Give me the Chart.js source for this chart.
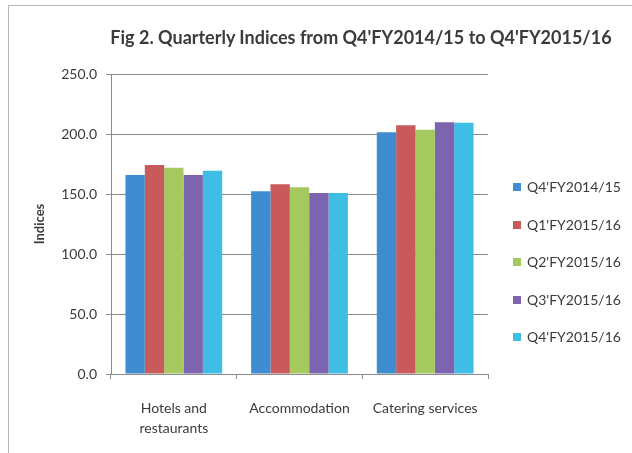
<!DOCTYPE html>
<html>
<head>
<meta charset="utf-8">
<script src="https://cdn.jsdelivr.net/npm/chart.js"></script>
<style>
    body { margin: 0; background: #fff; }
    #wrap { position: relative; width: 632px; height: 453px; overflow: hidden; }
    #frame { position: absolute; left: 8px; top: 5px; width: 700px; height: 500px; border-left: 1px solid #b5b5b5; border-top: 1px solid #b5b5b5; }
    #title { position: absolute; left: 361px; top: 26px; transform: translateX(-50%); white-space: nowrap;
             font: bold 18px Lato, sans-serif; color: #3b3b3b; }
    #legend { position: absolute; left: 513px; top: 178px; font: 14px Lato, sans-serif; color: #3b3b3b; }
    #legend div { height: 37.5px; display: flex; align-items: flex-start; }
    #legend span.box { display: inline-block; width: 8px; height: 8px; margin: 5px 6px 0 0; }
    canvas { position: absolute; left: 0; top: 0; }
</style>
</head>
<body>
<div id="wrap">
    <div id="frame"></div>
    <canvas id="chart" width="632" height="453"></canvas>
    <div id="title">Fig 2. Quarterly Indices from Q4'FY2014/15 to Q4'FY2015/16</div>
    <div id="legend"></div>
</div>

<script type="text/javascript">
    const categories = [["Hotels and", "restaurants"], "Accommodation", "Catering services"];
    const seriesNames = ["Q4'FY2014/15", "Q1'FY2015/16", "Q2'FY2015/16", "Q3'FY2015/16", "Q4'FY2015/16"];
    const q4fy1415 = [165.8, 152.2, 201.4];
    const q1fy1516 = [174.2, 158.1, 207.2];
    const q2fy1516 = [171.9, 155.6, 203.6];
    const q3fy1516 = [165.8, 150.8, 209.7];
    const q4fy1516 = [169.4, 150.8, 209.4];
    const colors = ["#3f8dd0", "#c85a5c", "#a6c95f", "#7c64ae", "#3fbde5"];

    const seriesData = [q4fy1415, q1fy1516, q2fy1516, q3fy1516, q4fy1516];
    const textColor = "#3b3b3b";
    const fontFamily = "Lato, sans-serif";

    let datasets = seriesData.map((d, i) => ({
        label: seriesNames[i],
        data: d,
        backgroundColor: colors[i],
        borderWidth: 0,
        categoryPercentage: 0.77,
        barPercentage: 1.0
    }));

    // html legend built from the series
    let legend = document.getElementById("legend");
    seriesNames.forEach((name, i) => {
        let row = document.createElement("div");
        row.innerHTML = '<span class="box" style="background:' + colors[i] + '"></span>' + name;
        legend.appendChild(row);
    });

    let ctx = document.getElementById("chart").getContext("2d");
    new Chart(ctx, {
        type: "bar",
        data: { labels: categories, datasets: datasets },
        options: {
            responsive: false,
            animation: false,
            layout: { padding: { top: 74, right: 144, left: 0, bottom: 0 } },
            plugins: {
                legend: { display: false },
                title: { display: false },
                tooltip: { enabled: false }
            },
            scales: {
                x: {
                    afterFit: s => { s.height = 79; },
                    grid: { display: true, drawOnChartArea: false, tickLength: 5, color: "#8a8a8a", offset: true },
                    border: { display: true, color: "#8a8a8a" },
                    ticks: { color: textColor, font: { family: fontFamily, size: 14, lineHeight: 1.45 }, padding: 19, maxRotation: 0 }
                },
                y: {
                    min: 0,
                    max: 250,
                    afterFit: s => { s.width = 111; },
                    grid: { color: "#8a8a8a", tickLength: 5 },
                    border: { display: true, color: "#8a8a8a" },
                    ticks: {
                        stepSize: 50,
                        color: textColor,
                        font: { family: fontFamily, size: 14 },
                        padding: 9,
                        callback: v => v.toFixed(1)
                    },
                    title: {
                        display: true,
                        text: "Indices",
                        color: textColor,
                        font: { family: fontFamily, size: 13, weight: "bold" },
                        padding: { top: 32, bottom: 0 }
                    }
                }
            }
        }
    });
</script>
</body>
</html>
